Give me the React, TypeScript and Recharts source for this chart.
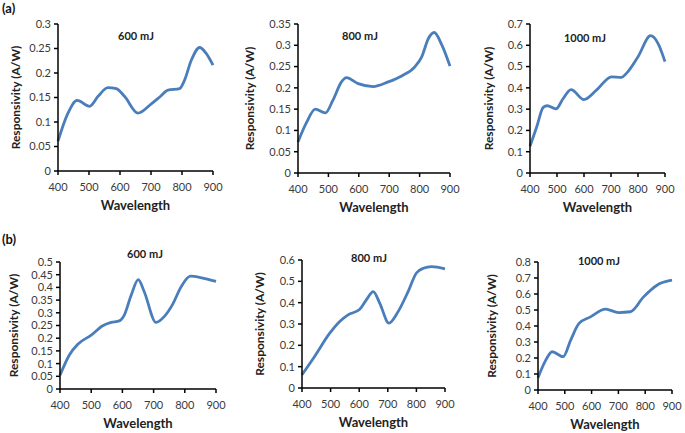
import React from 'react';
import { LineChart, Line, XAxis, YAxis } from 'recharts';

// --- data (wavelength in nm, responsivity in A/W) ---
const wlTicks = [400, 500, 600, 700, 800, 900];

const a600Wl = [400, 430, 462, 502, 530, 561, 588, 615, 658, 701, 730, 755, 792, 808, 830, 857, 878, 900];
const a600Resp = [0.061, 0.115, 0.144, 0.132, 0.153, 0.17, 0.168, 0.152, 0.118, 0.137, 0.152, 0.165, 0.168, 0.185, 0.226, 0.252, 0.24, 0.216];

const a800Wl = [400, 427, 457, 490, 515, 543, 559, 598, 647, 697, 741, 785, 807, 829, 848, 873, 900];
const a800Resp = [0.073, 0.117, 0.15, 0.141, 0.171, 0.214, 0.224, 0.21, 0.203, 0.214, 0.228, 0.25, 0.273, 0.316, 0.33, 0.301, 0.251];

const a1000Wl = [400, 425, 449, 464, 496, 523, 552, 600, 646, 702, 739, 757, 800, 847, 874, 900];
const a1000Resp = [0.126, 0.217, 0.308, 0.316, 0.301, 0.35, 0.392, 0.345, 0.389, 0.452, 0.449, 0.468, 0.546, 0.645, 0.609, 0.523];

const b600Wl = [400, 430, 457, 500, 537, 564, 590, 606, 628, 651, 670, 708, 734, 761, 788, 818, 857, 900];
const b600Resp = [0.054, 0.134, 0.176, 0.212, 0.249, 0.262, 0.268, 0.291, 0.369, 0.431, 0.383, 0.262, 0.285, 0.333, 0.402, 0.444, 0.437, 0.424];

const b800Wl = [400, 444, 497, 532, 561, 602, 625, 649, 672, 704, 736, 771, 800, 824, 853, 900];
const b800Resp = [0.062, 0.148, 0.257, 0.312, 0.343, 0.369, 0.413, 0.452, 0.397, 0.304, 0.358, 0.452, 0.539, 0.561, 0.569, 0.558];

const b1000Wl = [400, 429, 453, 494, 522, 553, 596, 652, 701, 745, 794, 844, 900];
const b1000Resp = [0.077, 0.187, 0.239, 0.208, 0.312, 0.416, 0.457, 0.505, 0.484, 0.489, 0.582, 0.655, 0.686];

const ticks300 = [0, 0.05, 0.1, 0.15, 0.2, 0.25, 0.3];
const ticks350 = [0, 0.05, 0.1, 0.15, 0.2, 0.25, 0.3, 0.35];
const ticks700 = [0, 0.1, 0.2, 0.3, 0.4, 0.5, 0.6, 0.7];
const ticks500 = [0, 0.05, 0.1, 0.15, 0.2, 0.25, 0.3, 0.35, 0.4, 0.45, 0.5];
const ticks600 = [0, 0.1, 0.2, 0.3, 0.4, 0.5, 0.6];
const ticks800 = [0, 0.1, 0.2, 0.3, 0.4, 0.5, 0.6, 0.7, 0.8];

const titles = ['600 mJ', '800 mJ', '1000 mJ', '600 mJ', '800 mJ', '1000 mJ'];

const zip = (xs: number[], ys: number[]) => xs.map((x, i) => ({ wl: x, r: ys[i] }));

const series = [
  { data: zip(a600Wl, a600Resp), ticks: ticks300 },
  { data: zip(a800Wl, a800Resp), ticks: ticks350 },
  { data: zip(a1000Wl, a1000Resp), ticks: ticks700 },
  { data: zip(b600Wl, b600Resp), ticks: ticks500 },
  { data: zip(b800Wl, b800Resp), ticks: ticks600 },
  { data: zip(b1000Wl, b1000Resp), ticks: ticks800 },
];

// plot boxes (x0, y0, x1, y1), title centre, y-label distance from axis
const layout = [
  { x0: 58, y0: 24, x1: 213, y1: 171, tx: 136, ty: 36, yl: 42 },
  { x0: 298, y0: 24, x1: 450, y1: 173, tx: 360, ty: 36, yl: 48 },
  { x0: 530, y0: 24, x1: 665, y1: 173, tx: 585, ty: 38, yl: 41 },
  { x0: 60, y0: 262, x1: 216, y1: 389, tx: 145, ty: 254, yl: 46 },
  { x0: 302, y0: 260, x1: 445, y1: 388, tx: 369, ty: 258, yl: 42 },
  { x0: 538, y0: 262, x1: 672, y1: 390, tx: 599, ty: 261, yl: 46 },
];

const FONT = 'Lato, "Open Sans", sans-serif';
const BLUE = '#4a7ebb';
const Y_W = 60;
const TOP = 20;
const RIGHT = 20;
const X_H = 45;

const Panel: React.FC<{ idx: number }> = ({ idx }) => {
  const L = layout[idx];
  const s = series[idx];
  const w = L.x1 - L.x0 + Y_W + RIGHT;
  const h = L.y1 - L.y0 + TOP + X_H;
  return (
    <div style={{ position: 'absolute', left: L.x0 - Y_W, top: L.y0 - TOP, width: w, height: h }}>
      <LineChart width={w} height={h} data={s.data} margin={{ top: TOP, right: RIGHT, bottom: 0, left: 0 }}>
        <XAxis
          dataKey="wl"
          type="number"
          domain={[400, 900]}
          ticks={wlTicks}
          height={X_H}
          axisLine={{ stroke: '#000', strokeWidth: 1.5 }}
          tickLine={{ stroke: '#000', strokeWidth: 1.5 }}
          tickSize={4}
          tickMargin={8}
          tick={{ fill: '#3a3a3a', fontSize: 11, fontFamily: FONT }}
          interval={0}
          label={{
            value: 'Wavelength',
            position: 'insideBottom',
            offset: 6,
            style: { fill: '#222', fontSize: 13, fontWeight: 700, fontFamily: FONT },
          }}
        />
        <YAxis
          type="number"
          domain={[0, s.ticks[s.ticks.length - 1]]}
          ticks={s.ticks}
          width={Y_W}
          axisLine={{ stroke: '#000', strokeWidth: 1.5 }}
          tickLine={{ stroke: '#000', strokeWidth: 1.5 }}
          tickSize={4}
          tickMargin={3}
          tick={{ fill: '#3a3a3a', fontSize: 11, fontFamily: FONT }}
          interval={0}
          label={{
            value: 'Responsivity (A/W)',
            angle: -90,
            position: 'insideLeft',
            offset: Y_W - L.yl,
            style: { textAnchor: 'middle', fill: '#222', fontSize: 12, fontWeight: 700, fontFamily: FONT },
          }}
        />
        <Line
          type="monotone"
          dataKey="r"
          stroke={BLUE}
          strokeWidth={2.8}
          dot={false}
          isAnimationActive={false}
        />
      </LineChart>
    </div>
  );
};

export default function App() {
  return (
    <div
      style={{
        position: 'absolute',
        left: 0,
        top: 0,
        width: 685,
        height: 433,
        overflow: 'hidden',
        background: '#fff',
        fontFamily: FONT,
      }}
    >
      {layout.map((_, i) => (
        <Panel key={i} idx={i} />
      ))}
      {layout.map((L, i) => (
        <div
          key={'t' + i}
          style={{
            position: 'absolute',
            left: L.tx - 40,
            top: L.ty - 7,
            width: 80,
            textAlign: 'center',
            fontSize: 11,
            fontWeight: 700,
            color: '#222',
            lineHeight: '14px',
          }}
        >
          {titles[i]}
        </div>
      ))}
      <div style={{ position: 'absolute', left: 2, top: 0, fontSize: 13, fontWeight: 700, color: '#111' }}>(a)</div>
      <div style={{ position: 'absolute', left: 2, top: 231, fontSize: 13, fontWeight: 700, color: '#111' }}>(b)</div>
    </div>
  );
}
